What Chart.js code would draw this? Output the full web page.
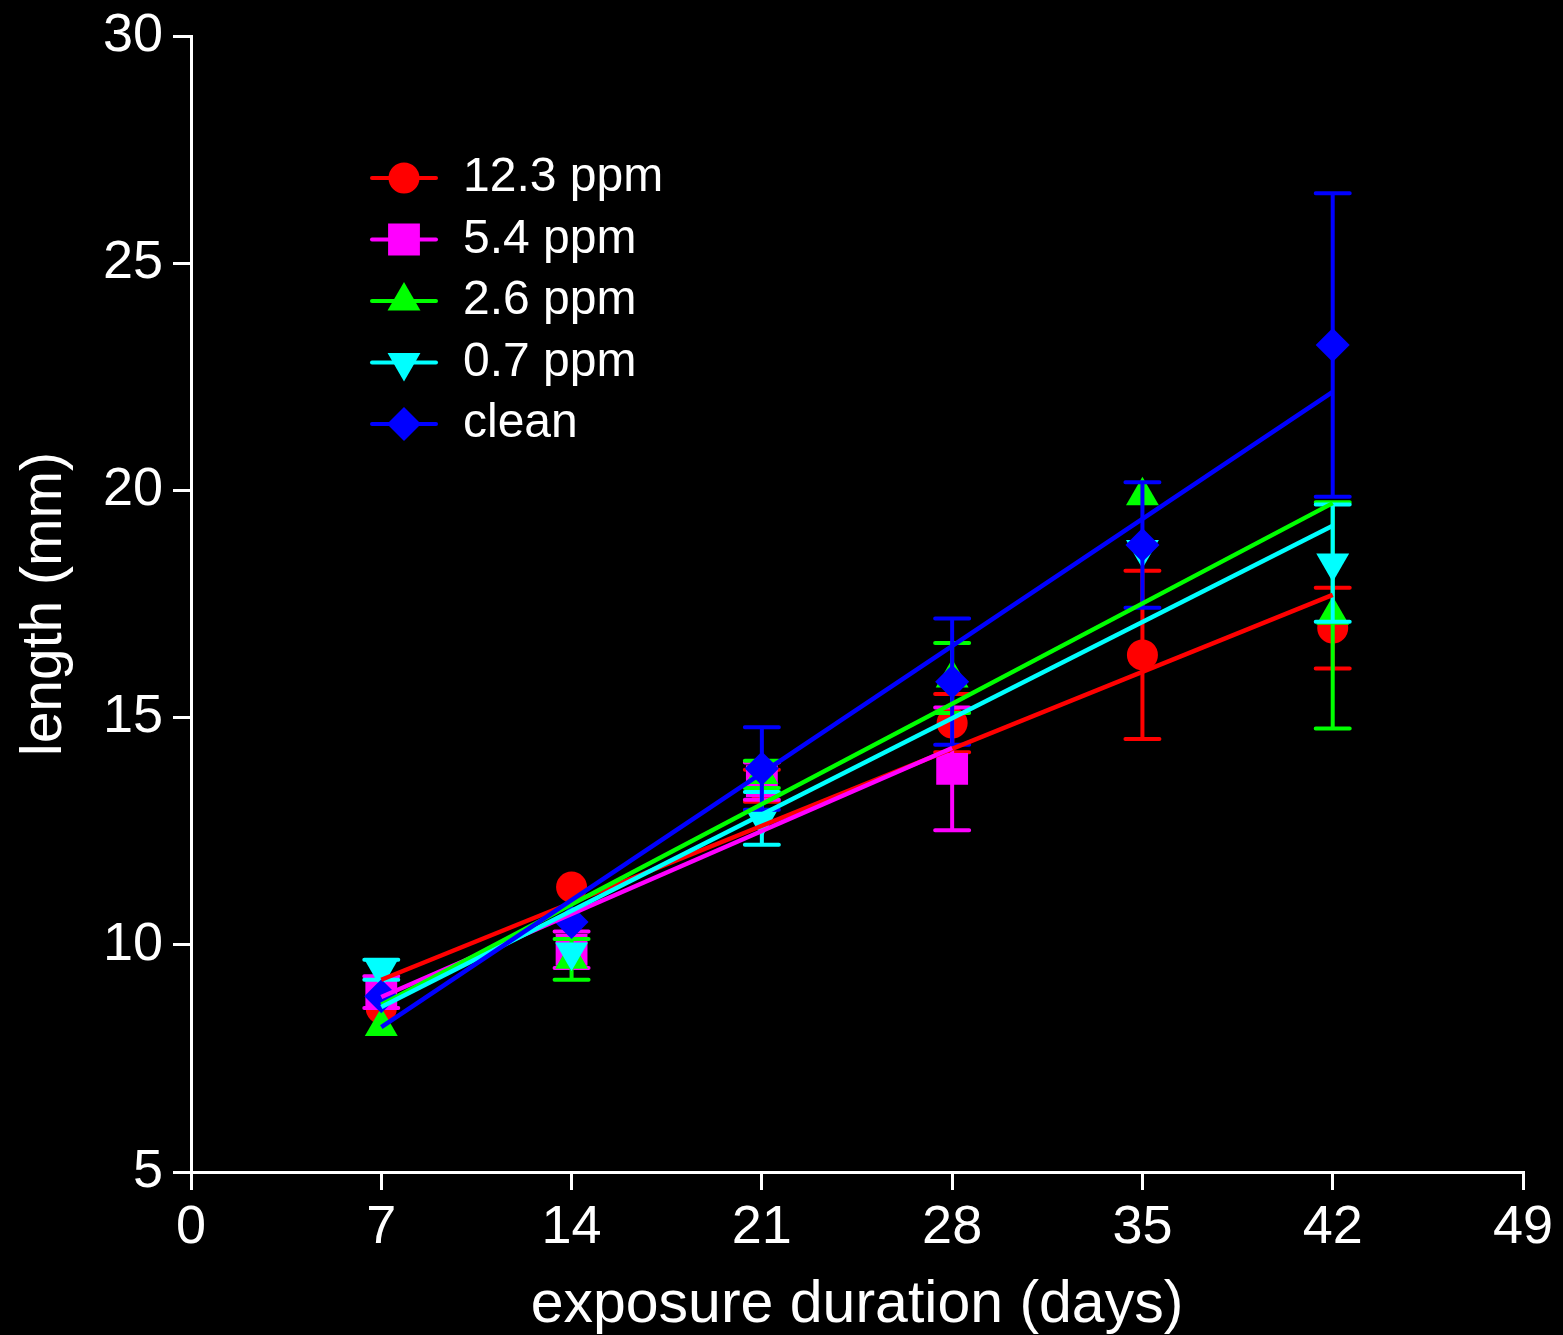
<!DOCTYPE html>
<html>
<head>
<meta charset="utf-8">
<script src="https://cdn.jsdelivr.net/npm/chart.js@4/dist/chart.umd.min.js"></script>
<style>
html,body{margin:0;padding:0;background:#000;}
#wrap{width:1563px;height:1335px;position:relative;}
canvas{display:block;background:#000;}
</style>
</head>
<body>
<div id="wrap"><canvas id="c" width="1563" height="1335"></canvas></div>
<script>
// ---------- data ----------
const days = [7, 14, 21, 28, 35, 42];
const seriesLabels = ['12.3 ppm', '5.4 ppm', '2.6 ppm', '0.7 ppm', 'clean'];
const seriesColors = ['#ff0000', '#ff00ff', '#00ff00', '#00ffff', '#0000ff'];

const len_12_3 = [8.6, 11.27, 13.5, 14.88, 16.38, 16.97];
const err_12_3 = [null, null, 0.35, 0.64, 1.85, 0.89];
const len_5_4  = [8.96, 9.89, 13.6, 13.87, null, null];
const err_5_4  = [0.35, 0.4, 0.41, 1.35, null, null];
const len_2_6  = [8.2, 9.68, 13.75, 15.87, 19.88, 17.25];
const err_2_6  = [null, 0.45, 0.3, 0.77, null, 2.49];
const len_0_7  = [9.45, 9.84, 12.78, null, 18.7, 18.4];
const err_0_7  = [0.22, null, 0.58, null, null, 1.29];
const len_clean = [8.87, 10.5, 13.88, 15.79, 18.8, 23.2];
const err_clean = [null, null, 0.91, 1.39, 1.38, 3.34];

// fitted straight lines as drawn in the reference (start/end day and length)
const fitStartDay = [7, 7, 7, 7, 7];
const fitEndDay   = [42, 28, 42, 42, 42];
const fitStartLen = [9.23, 8.85, 8.68, 8.63, 8.19];
const fitEndLen   = [17.7, 14.33, 19.72, 19.22, 22.17];

const xTicks = [0, 7, 14, 21, 28, 35, 42, 49];
const yTicks = [5, 10, 15, 20, 25, 30];

const xTitle = 'exposure duration (days)';
const yTitle = 'length (mm)';

// ---------- styling ----------
const allLen = [len_12_3, len_5_4, len_2_6, len_0_7, len_clean];
const allErr = [err_12_3, err_5_4, err_2_6, err_0_7, err_clean];
const pointStyles = ['circle', 'rect', 'triangle', 'triangle', 'rectRot'];
const pointRot = [0, 0, 0, 180, 0];
const pointRad = [15.5, 22.5, 19, 19, 17];
const FONT = '"Liberation Sans", Arial, Helvetica, sans-serif';

const datasets = [];
// fitted lines (drawn on top: lowest order)
allLen.forEach((arr, i) => {
  datasets.push({
    label: seriesLabels[i] + ' fit',
    data: [{x: fitStartDay[i], y: fitStartLen[i]}, {x: fitEndDay[i], y: fitEndLen[i]}],
    showLine: true,
    borderColor: seriesColors[i],
    backgroundColor: seriesColors[i],
    borderWidth: 4.5,
    pointRadius: 0,
    pointHoverRadius: 0,
    order: 5 - i
  });
});
// points with error bars
allLen.forEach((arr, i) => {
  datasets.push({
    label: seriesLabels[i],
    data: days.map((d, k) => ({x: d, y: arr[k]})),
    errors: allErr[i],
    showLine: false,
    borderColor: seriesColors[i],
    backgroundColor: seriesColors[i],
    pointStyle: pointStyles[i],
    rotation: pointRot[i],
    pointRadius: pointRad[i],
    pointHoverRadius: pointRad[i],
    pointBorderWidth: 0,
    order: 10 - i
  });
});

const errorBars = {
  id: 'errorBars',
  beforeDatasetDraw(chart, args) {
    const ds = chart.data.datasets[args.index];
    if (!ds.errors) return;
    const ctx = chart.ctx, xs = chart.scales.x, ys = chart.scales.y;
    ctx.save();
    ctx.strokeStyle = ds.borderColor;
    ctx.lineWidth = 4;
    ctx.lineCap = 'round';
    ds.data.forEach((p, k) => {
      const e = ds.errors[k];
      if (p.y == null || e == null) return;
      const x = xs.getPixelForValue(p.x);
      const yt = ys.getPixelForValue(p.y + e);
      const yb = ys.getPixelForValue(p.y - e);
      ctx.beginPath();
      ctx.moveTo(x, yt); ctx.lineTo(x, yb);
      ctx.moveTo(x - 17, yt); ctx.lineTo(x + 17, yt);
      ctx.moveTo(x - 17, yb); ctx.lineTo(x + 17, yb);
      ctx.stroke();
    });
    ctx.restore();
  }
};

function drawMarker(ctx, style, r, rot, x, y) {
  if (Chart.helpers && Chart.helpers.drawPoint) {
    Chart.helpers.drawPoint(ctx, {pointStyle: style, radius: r, rotation: rot, borderWidth: 0}, x, y);
    return;
  }
  ctx.beginPath();
  ctx.arc(x, y, r, 0, Math.PI * 2);
  ctx.fill();
}

const legendPlugin = {
  id: 'customLegend',
  afterDraw(chart) {
    const ctx = chart.ctx, a = chart.chartArea;
    ctx.save();
    seriesLabels.forEach((lab, i) => {
      const cy = a.top + 142 + i * 61.5;
      const x0 = a.left + 181, x1 = a.left + 245, cx = (x0 + x1) / 2;
      ctx.strokeStyle = seriesColors[i];
      ctx.fillStyle = seriesColors[i];
      ctx.lineWidth = 4;
      ctx.lineCap = 'round';
      ctx.beginPath(); ctx.moveTo(x0, cy); ctx.lineTo(x1, cy); ctx.stroke();
      drawMarker(ctx, pointStyles[i], pointRad[i], pointRot[i], cx, cy);
      ctx.fillStyle = '#ffffff';
      ctx.font = '48px ' + FONT;
      ctx.textBaseline = 'middle';
      ctx.textAlign = 'left';
      ctx.fillText(lab, a.left + 272, cy);
    });
    ctx.restore();
  }
};

new Chart(document.getElementById('c'), {
  type: 'scatter',
  data: {datasets},
  plugins: [errorBars, legendPlugin],
  options: {
    responsive: false,
    devicePixelRatio: 1,
    animation: false,
    events: [],
    layout: {padding: {top: 36, right: 40, bottom: 0, left: 0}},
    plugins: {legend: {display: false}, tooltip: {enabled: false}},
    scales: {
      x: {
        type: 'linear', min: 0, max: 49,
        afterBuildTicks: s => { s.ticks = xTicks.map(v => ({value: v})); },
        afterFit: s => { s.height = 163; s.paddingLeft = 0; s.paddingRight = 0; },
        ticks: {color: '#fff', font: {size: 54, family: FONT}, padding: 6, maxRotation: 0, autoSkip: false},
        grid: {drawOnChartArea: false, drawTicks: true, tickLength: 18, color: '#fff', lineWidth: 3},
        border: {display: true, color: '#fff', width: 3},
        title: {display: true, text: xTitle, color: '#fff', font: {size: 59, family: FONT, lineHeight: 1.0}, padding: {top: 0, bottom: 0}}
      },
      y: {
        type: 'linear', min: 5, max: 30,
        afterBuildTicks: s => { s.ticks = yTicks.map(v => ({value: v})); },
        afterFit: s => { s.width = 191; s.paddingTop = 0; s.paddingBottom = 0; },
        ticks: {color: '#fff', font: {size: 54, family: FONT}, padding: 10, autoSkip: false},
        grid: {drawOnChartArea: false, drawTicks: true, tickLength: 18, color: '#fff', lineWidth: 3},
        border: {display: true, color: '#fff', width: 3},
        title: {display: true, text: yTitle, color: '#fff', font: {size: 57, family: FONT, lineHeight: 1.1}, padding: {top: 14, bottom: 0}}
      }
    }
  }
});
</script>
</body>
</html>
